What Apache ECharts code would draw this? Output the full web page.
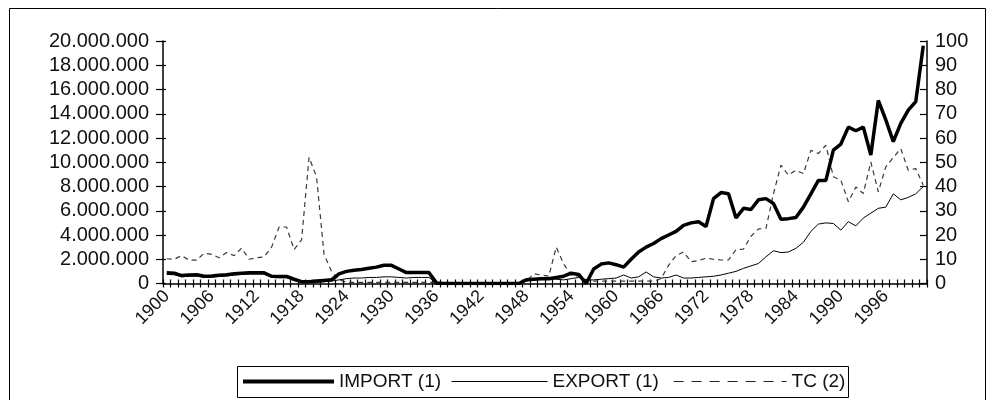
<!DOCTYPE html>
<html>
<head>
<meta charset="utf-8">
<script src="https://cdn.jsdelivr.net/npm/echarts@6/dist/echarts.min.js"></script>
<style>
  html, body { margin: 0; padding: 0; background: #fff; }
  #chart { width: 995px; height: 400px; }
</style>
</head>
<body>
<div id="chart"></div>
<script>
// Years 1900-2001, one category per year
const years = Array.from({ length: 102 }, (_, i) => String(1900 + i));

// Imports, millions (left axis)
const importValues = [
  0.88, 0.85, 0.65, 0.7, 0.72, 0.6, 0.62, 0.68, 0.72, 0.8,
  0.85, 0.88, 0.88, 0.88, 0.6, 0.58, 0.58, 0.35, 0.15, 0.15,
  0.2, 0.25, 0.3, 0.8, 1.0, 1.1, 1.15, 1.25, 1.35, 1.5,
  1.5, 1.2, 0.9, 0.9, 0.9, 0.9, 0.05,
  0, 0, 0, 0, 0, 0, 0, 0, 0, 0, 0,
  0.3, 0.35, 0.4, 0.4, 0.5, 0.6, 0.85, 0.75, 0, 1.2,
  1.6, 1.7, 1.55, 1.35, 2.0, 2.6, 3.0, 3.3, 3.7, 4.0,
  4.3, 4.8, 5.0, 5.1, 4.7, 7.0, 7.5, 7.4, 5.4, 6.2,
  6.1, 6.9, 7.0, 6.6, 5.3, 5.35, 5.45, 6.3, 7.4, 8.5,
  8.5, 11.0, 11.5, 12.9, 12.6, 12.9, 10.6, 15.1, 13.5, 11.7,
  13.2, 14.3, 15.0, 19.6
];

// Exports, millions (left axis)
const exportValues = [
  0.75, 0.72, 0.55, 0.6, 0.62, 0.5, 0.52, 0.58, 0.62, 0.7,
  0.75, 0.78, 0.78, 0.78, 0.5, 0.48, 0.48, 0.25, 0.1, 0.1,
  0.1, 0.15, 0.2, 0.3, 0.4, 0.45, 0.45, 0.5, 0.5, 0.55,
  0.55, 0.5, 0.45, 0.5, 0.5, 0.5, 0.05,
  0, 0, 0, 0, 0, 0, 0, 0, 0, 0, 0,
  0.2, 0.3, 0.45, 0.4, 0.35, 0.3, 0.4, 0.5, 0.3, 0.3,
  0.35, 0.4, 0.45, 0.7, 0.45, 0.55, 0.95, 0.55, 0.45, 0.5,
  0.7, 0.45, 0.45, 0.5, 0.55, 0.6, 0.7, 0.85, 1.0, 1.25,
  1.45, 1.65, 2.2, 2.7, 2.55, 2.6, 2.9, 3.4, 4.3, 4.9,
  5.0, 4.95, 4.4, 5.1, 4.75, 5.4, 5.8, 6.2, 6.3, 7.4,
  6.9, 7.1, 7.4, 8.0
];

// Exchange rate TC (right axis)
const tcValues = [
  10.2, 10, 11.5, 9.6, 9.6, 12.5, 12, 10.6, 12.8, 11.5,
  14.6, 10, 10.6, 11, 15, 23.3, 23.3, 14, 18, 52,
  44, 12, 5, 1.5, 0.5, 0.5, 0.5, 0.5, 0.5, 0.5,
  0.5, 0.5, 0.5, 0.5, 0.5, 0.5, 0.5,
  0, 0, 0, 0, 0, 0, 0, 0, 0, 0, 0,
  1, 4, 3.5, 3, 15, 8, 3.5, 3, 1.5, 1,
  1, 1, 1, 1, 1, 1, 1, 1, 2, 7.5,
  11.5, 13, 9, 9.5, 10.4, 10, 9.7, 9.7, 14, 14.2,
  19.5, 22.5, 22.7, 37, 48.8, 44.7, 46.7, 45.3, 54.9, 53.6,
  57, 44, 42.6, 33.7, 39.8, 37.1, 50.1, 37.8, 48.1, 52,
  55.6, 46.7, 47.4, 40.5
];

// Tick labels of the two value axes
const leftTickLabels = ['0', '2.000.000', '4.000.000', '6.000.000', '8.000.000', '10.000.000',
  '12.000.000', '14.000.000', '16.000.000', '18.000.000', '20.000.000'];
const rightTickLabels = ['0', '10', '20', '30', '40', '50', '60', '70', '80', '90', '100'];

const FONT = 'Liberation Sans, Arial, sans-serif';
const INK = '#111';

const chart = echarts.init(document.getElementById('chart'), null, { renderer: 'canvas' });

const baseX = {
  type: 'category',
  data: years,
  boundaryGap: true,
  position: 'bottom'
};

// Legend entries share one framed box; each entry has its own sample length
const legendBase = {
  top: 372, padding: 0, itemHeight: 14, selectedMode: false,
  textStyle: { fontFamily: FONT, fontSize: 19, color: INK },
  itemStyle: { color: 'rgba(0,0,0,0)', borderWidth: 0 }
};

chart.setOption({
  animation: false,
  backgroundColor: '#fff',
  grid: { left: 163, right: 68, top: 41, bottom: 116.5, containLabel: false },
  xAxis: [
    Object.assign({}, baseX, {
      axisLine: { show: true, lineStyle: { color: '#000', width: 1.5 } },
      axisTick: { show: true, interval: 0, length: 4, lineStyle: { color: '#000', width: 1.2 } },
      axisLabel: {
        interval: 5, rotate: 45, margin: 10,
        fontFamily: FONT, fontSize: 18, color: INK
      },
      splitLine: { show: false }
    }),
    Object.assign({}, baseX, {
      axisLine: { show: false },
      axisTick: { show: true, inside: true, interval: 0, length: 4, lineStyle: { color: '#000', width: 1.2 } },
      axisLabel: { show: false },
      splitLine: { show: false }
    })
  ],
  yAxis: [
    {
      type: 'value', position: 'left', min: 0, max: 20, interval: 2,
      axisLine: { show: true, lineStyle: { color: '#000', width: 1.5 } },
      axisTick: { show: true, length: 7, lineStyle: { color: '#000', width: 1.2 } },
      axisLabel: {
        margin: 14, fontFamily: FONT, fontSize: 20, color: INK,
        formatter: v => leftTickLabels[Math.round(v / 2)]
      },
      splitLine: { show: false }
    },
    {
      type: 'value', position: 'right', min: 0, max: 100, interval: 10,
      axisLine: { show: true, lineStyle: { color: '#000', width: 1.5 } },
      axisTick: { show: true, inside: true, length: 7, lineStyle: { color: '#000', width: 1.2 } },
      axisLabel: {
        margin: 8, fontFamily: FONT, fontSize: 20, color: INK,
        formatter: v => rightTickLabels[Math.round(v / 10)]
      },
      splitLine: { show: false }
    },
    {
      type: 'value', position: 'left', min: 0, max: 20, interval: 2,
      axisLine: { show: false },
      axisTick: { show: true, inside: true, length: 3, lineStyle: { color: '#000', width: 1.2 } },
      axisLabel: { show: false },
      splitLine: { show: false }
    }
  ],
  legend: [
    Object.assign({}, legendBase, {
      data: ['IMPORT (1)'], left: 241, itemWidth: 91,
      lineStyle: { width: 4, color: '#000' }
    }),
    Object.assign({}, legendBase, {
      data: ['EXPORT (1)'], left: 451, itemWidth: 96,
      lineStyle: { width: 1, color: '#000' }
    }),
    Object.assign({}, legendBase, {
      data: ['TC (2)'], left: 673, itemWidth: 113,
      lineStyle: { width: 1.2, color: '#222', type: [10, 8] }
    })
  ],
  graphic: [
    {
      type: 'rect', silent: true,
      shape: { x: 9.5, y: 8.5, width: 976, height: 430 },
      style: { fill: 'none', stroke: '#000', lineWidth: 1 }
    },
    {
      type: 'rect', silent: true,
      shape: { x: 237.5, y: 366.5, width: 611, height: 31 },
      style: { fill: 'none', stroke: '#000', lineWidth: 1 }
    }
  ],
  series: [
    {
      name: 'TC (2)', type: 'line', xAxisIndex: 0, yAxisIndex: 1,
      data: tcValues, symbol: 'none', z: 2,
      itemStyle: { color: '#3a3a3a' },
      lineStyle: { color: '#3a3a3a', width: 1.2, type: [5, 4] }
    },
    {
      name: 'EXPORT (1)', type: 'line', xAxisIndex: 0, yAxisIndex: 0,
      data: exportValues, symbol: 'none', z: 3,
      itemStyle: { color: '#000' },
      lineStyle: { color: '#000', width: 1 }
    },
    {
      name: 'IMPORT (1)', type: 'line', xAxisIndex: 0, yAxisIndex: 0,
      data: importValues, symbol: 'none', z: 4,
      itemStyle: { color: '#000' },
      lineStyle: { color: '#000', width: 3.5 }
    }
  ]
});
</script>
</body>
</html>
